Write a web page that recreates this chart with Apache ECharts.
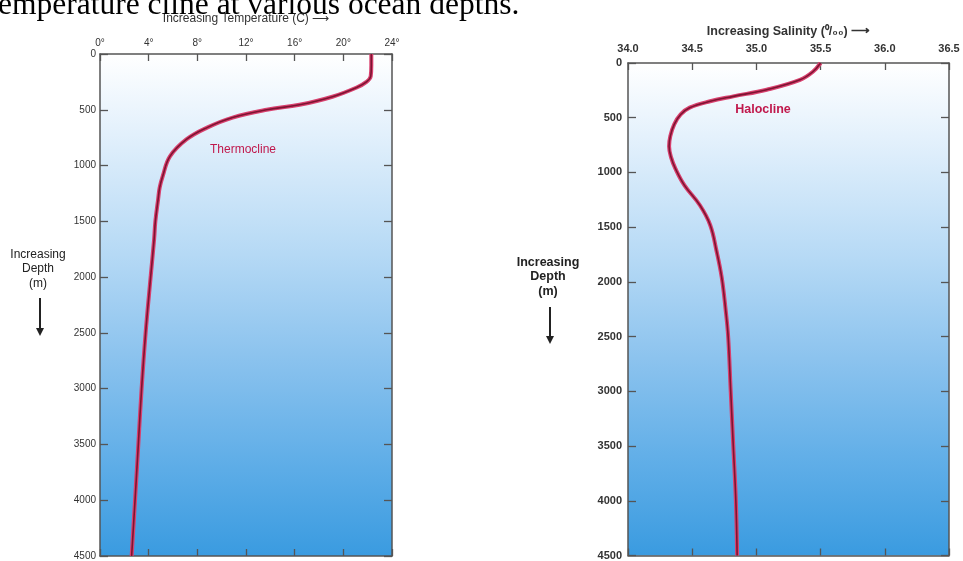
<!DOCTYPE html>
<html>
<head>
<meta charset="utf-8">
<script src="https://cdn.jsdelivr.net/npm/echarts@6/dist/echarts.min.js"></script>
<style>html,body{margin:0;padding:0;background:#fff;overflow:hidden}#c{width:963px;height:561px}</style>
</head>
<body>
<div id="c"></div>
<script>
// ---- data ----
const tempTicks = [0, 4, 8, 12, 16, 20, 24];
const salTicks = [34.0, 34.5, 35.0, 35.5, 36.0, 36.5];
const depthTicks = [0, 500, 1000, 1500, 2000, 2500, 3000, 3500, 4000, 4500];

const tempDepth = [0, 100, 200, 250, 300, 383, 455, 500, 570, 660, 766, 918, 1096, 1200, 1300, 1500, 1657, 2000, 2500, 3000, 3500, 4000, 4500];
const tempValue = [22.3, 22.3, 22.25, 21.9, 21.1, 19.1, 16.4, 13.7, 10.9, 8.8, 7.1, 5.75, 5.15, 4.9, 4.78, 4.55, 4.45, 4.16, 3.75, 3.42, 3.15, 2.88, 2.6];

const salDepth = [0, 80, 154, 244, 305, 350, 408, 470, 560, 666, 760, 860, 967, 1118, 1300, 1480, 1720, 1960, 2250, 2500, 3000, 3500, 4000, 4500];
const salValue = [35.5, 35.44, 35.34, 35.08, 34.82, 34.64, 34.48, 34.41, 34.36, 34.33, 34.32, 34.335, 34.37, 34.44, 34.56, 34.64, 34.69, 34.73, 34.76, 34.78, 34.80, 34.82, 34.84, 34.85];

const titleText = 'Temperature cline at various ocean depths.';
const tempAxisName = 'Increasing Temperature (C) \u27F6';
const salAxisName = 'Increasing Salinity (\u2070/\u2080\u2080) \u27F6';
const depthName = 'Increasing\nDepth\n(m)';

// ---- build ----
const chart = echarts.init(document.getElementById('c'));
const bg = new echarts.graphic.LinearGradient(0, 0, 0, 1, [
  {offset: 0, color: '#ffffff'},
  {offset: 0.15, color: '#e4f1fc'},
  {offset: 0.4, color: '#b5d9f5'},
  {offset: 0.6, color: '#8cc3ee'},
  {offset: 0.8, color: '#62afe8'},
  {offset: 1, color: '#3a9be0'}
]);
const axisLine = {show: true, onZero: false, lineStyle: {color: '#555', width: 1.5}};
const tick = {show: true, inside: true, length: 7, lineStyle: {color: '#555', width: 1.3}};
const font = 'Liberation Sans';

function xAx(grid, pos, ticks, labels, fmt, fs, margin, name) {
  const a = {
    type: 'value', gridIndex: grid, position: pos,
    min: ticks[0], max: ticks[ticks.length - 1], interval: ticks[1] - ticks[0],
    axisLine: axisLine, axisTick: tick, splitLine: {show: false},
    axisLabel: {show: labels, formatter: fmt, fontSize: fs, color: '#333', fontFamily: font, margin: margin, fontWeight: grid === 1 ? 'bold' : 'normal'}
  };
  if (name) {
    a.name = name; a.nameLocation = 'middle'; a.nameGap = grid === 0 ? 29 : 24;
    a.nameTextStyle = {fontSize: grid === 0 ? 12 : 12.5, color: '#333', fontFamily: font, fontWeight: grid === 1 ? 'bold' : 'normal'};
  }
  return a;
}
function yAx(grid, pos, labels, margin, fs) {
  return {
    type: 'value', gridIndex: grid, position: pos, inverse: true,
    min: depthTicks[0], max: depthTicks[depthTicks.length - 1], interval: depthTicks[1] - depthTicks[0],
    axisLine: axisLine, axisTick: Object.assign({}, tick, {length: 8}), splitLine: {show: false},
    axisLabel: {show: labels, formatter: v => String(v), fontSize: fs, color: '#333', fontFamily: font, margin: margin, fontWeight: grid === 1 ? 'bold' : 'normal'}
  };
}

const tempData = tempDepth.map((d, i) => [tempValue[i], d]);
const salData = salDepth.map((d, i) => [salValue[i], d]);

function lineSeries(data, xi, yi, color, width, z) {
  return {type: 'line', data: data, xAxisIndex: xi, yAxisIndex: yi, showSymbol: false, smooth: 0.4,
    lineStyle: {color: color, width: width}, z: z, silent: true, animation: false};
}

function arrow(x, y1, y2) {
  return {type: 'group', children: [
    {type: 'line', shape: {x1: x, y1: y1, x2: x, y2: y2 - 6}, style: {stroke: '#222', lineWidth: 2}},
    {type: 'polygon', shape: {points: [[x - 4, y2 - 8], [x + 4, y2 - 8], [x, y2]]}, style: {fill: '#222'}}
  ]};
}

chart.setOption({
  animation: false,
  grid: [
    {left: 100, top: 54, width: 292, height: 505, show: true, backgroundColor: bg, borderWidth: 0},
    {left: 628, top: 63, width: 321, height: 498, show: true, backgroundColor: bg, borderWidth: 0}
  ],
  xAxis: [
    xAx(0, 'top', tempTicks, true, '{value}\u00B0', 10, 6, tempAxisName),
    xAx(0, 'bottom', tempTicks, false),
    xAx(1, 'top', salTicks, true, v => v.toFixed(1), 11, 9, salAxisName),
    xAx(1, 'bottom', salTicks, false)
  ],
  yAxis: [
    yAx(0, 'left', true, 4, 10),
    yAx(0, 'right', false, 4, 10),
    yAx(1, 'left', true, 6, 11),
    yAx(1, 'right', false, 6, 11)
  ],
  series: [
    lineSeries(tempData, 0, 0, '#d8406e', 4, 2),
    lineSeries(tempData, 0, 0, '#7d1432', 1.6, 3),
    lineSeries(salData, 2, 2, '#d8406e', 4, 2),
    lineSeries(salData, 2, 2, '#7d1432', 1.6, 3)
  ],
  graphic: [
    {type: 'text', x: -19, y: -10, z: 10, style: {text: titleText, font: '31.5px "Liberation Serif"', fill: '#000', verticalAlign: 'top'}},
    {type: 'text', x: 38, y: 269, style: {text: depthName, font: '12px "Liberation Sans"', fill: '#222', align: 'center', verticalAlign: 'middle', lineHeight: 14.5}},
    {type: 'text', x: 548, y: 277, style: {text: depthName, font: 'bold 12.5px "Liberation Sans"', fill: '#222', align: 'center', verticalAlign: 'middle', lineHeight: 14.5}},
    arrow(40, 298, 336),
    arrow(550, 307, 344),
    {type: 'text', x: 243, y: 150, style: {text: 'Thermocline', font: '12px "Liberation Sans"', fill: '#c0184c', align: 'center', verticalAlign: 'middle'}},
    {type: 'text', x: 763, y: 110, style: {text: 'Halocline', font: 'bold 12.5px "Liberation Sans"', fill: '#c0184c', align: 'center', verticalAlign: 'middle'}}
  ]
});
</script>
</body>
</html>
